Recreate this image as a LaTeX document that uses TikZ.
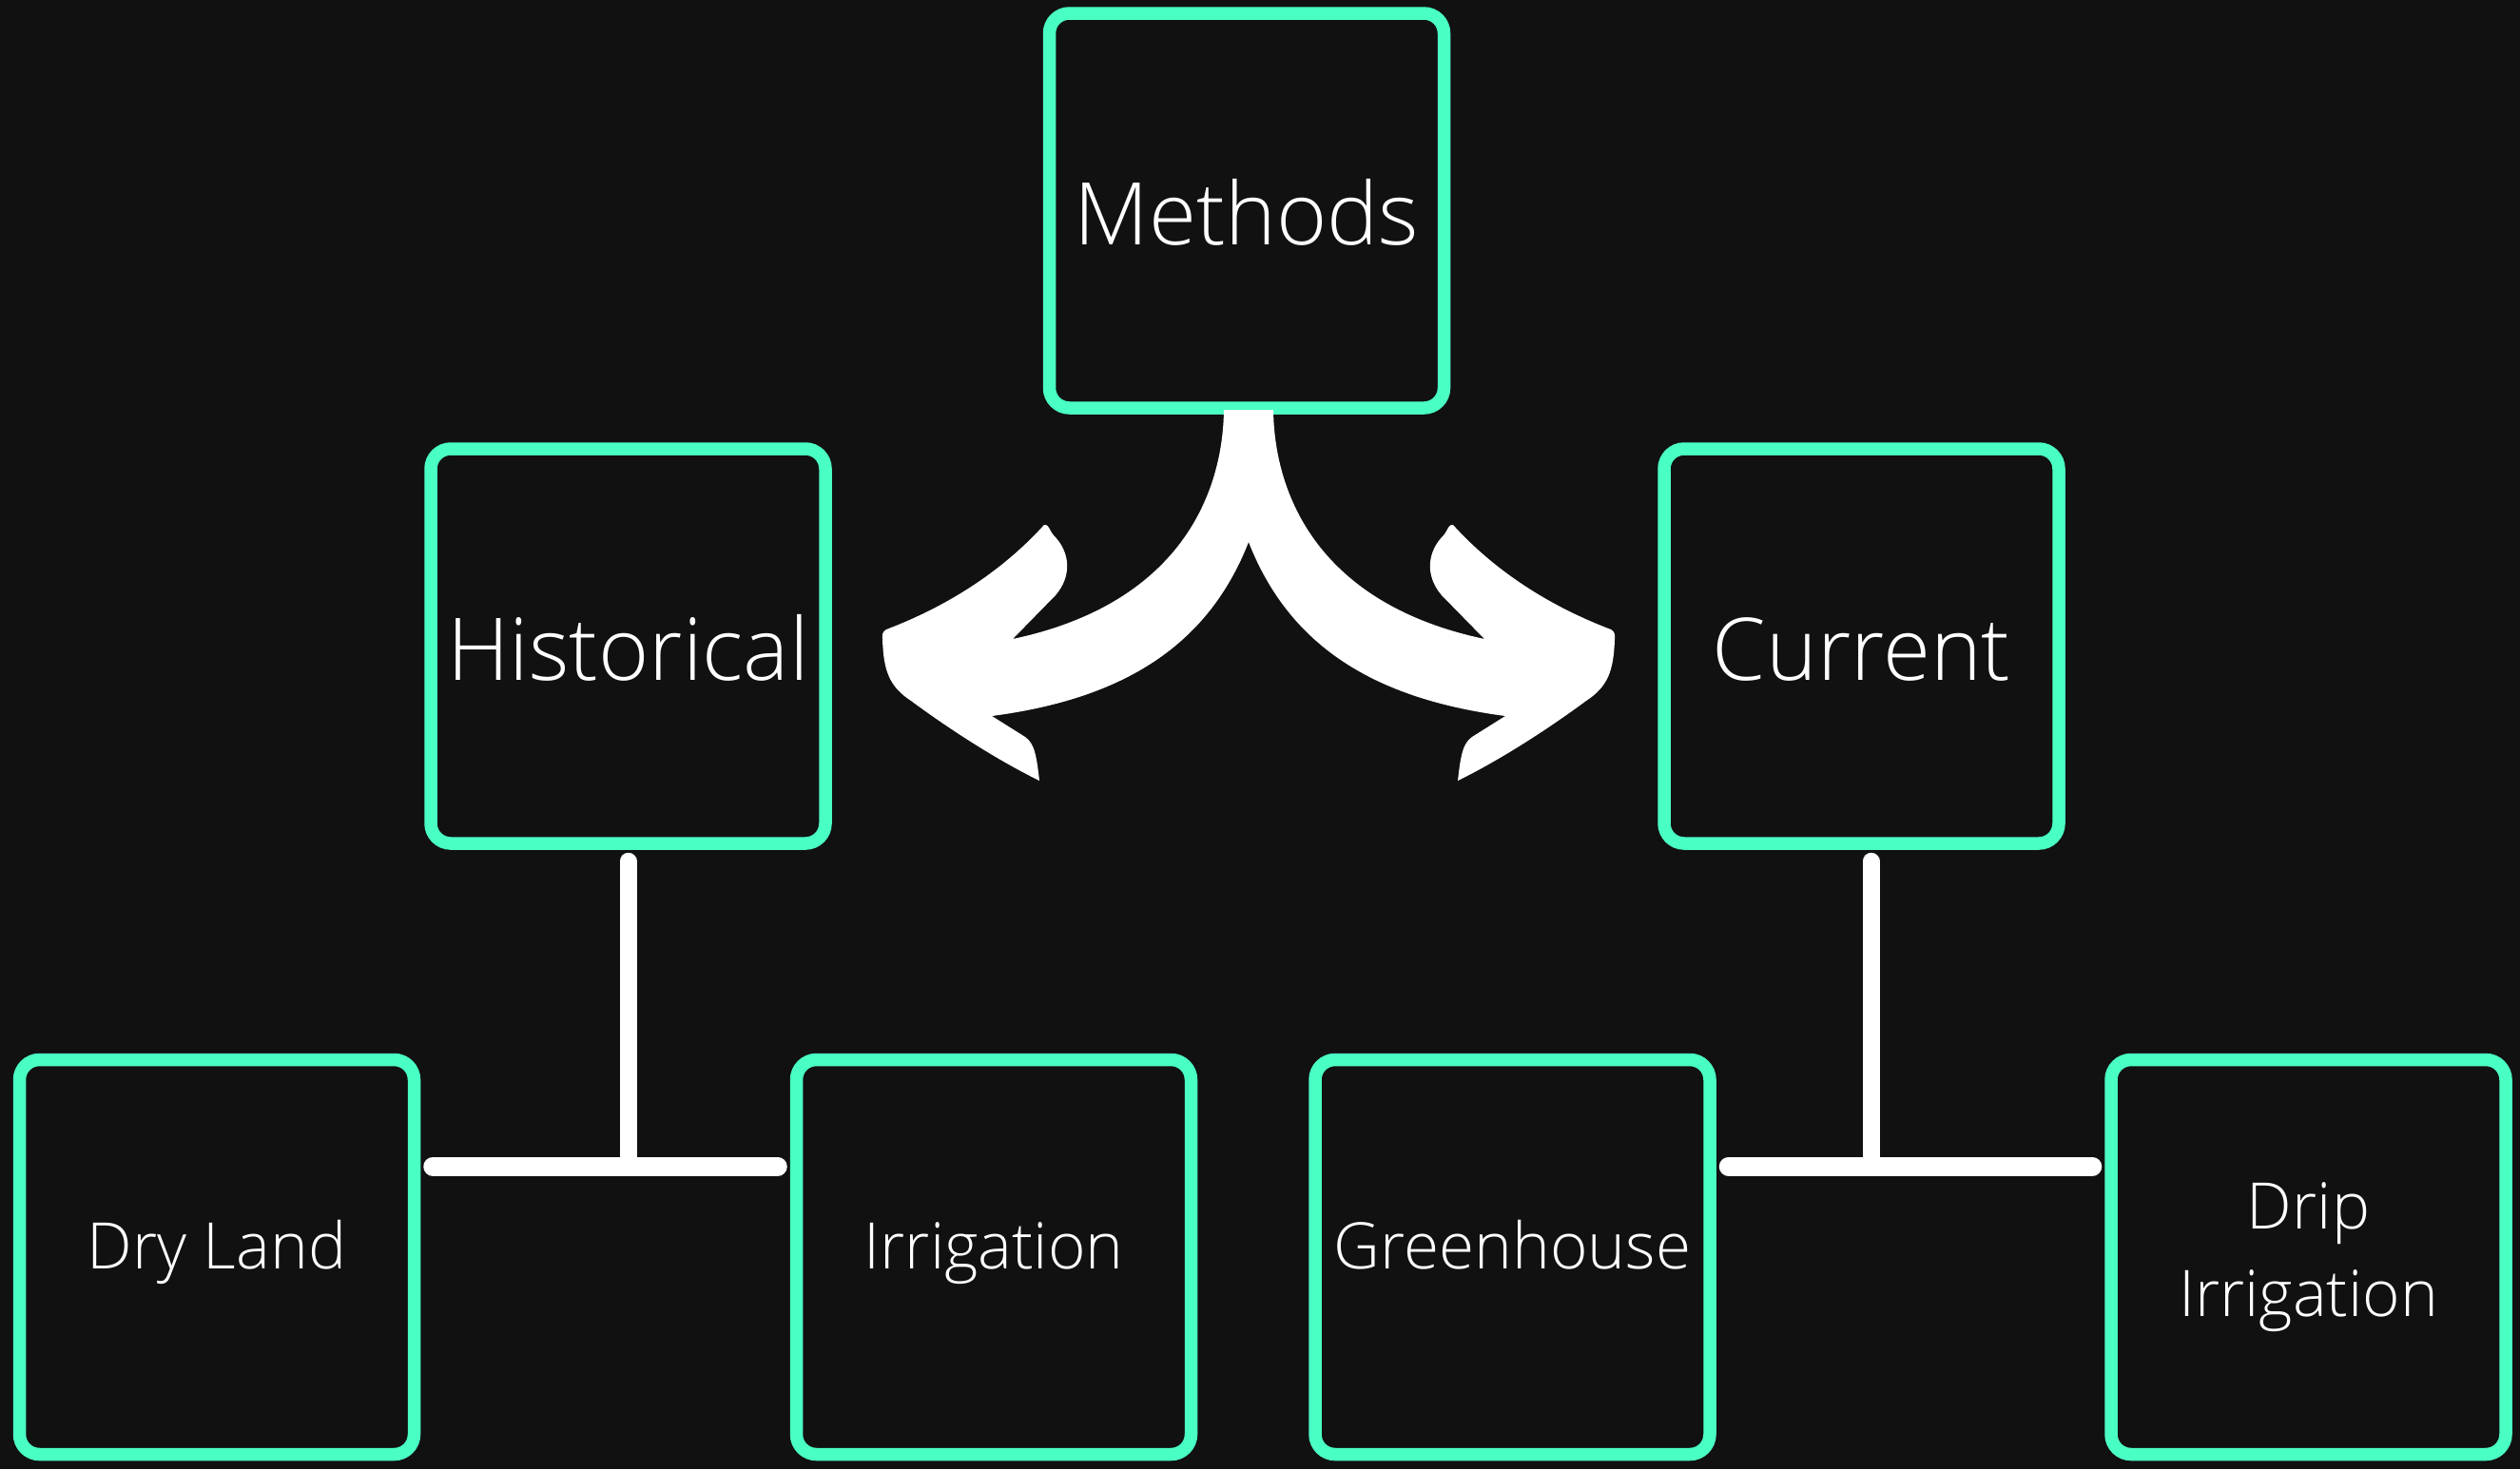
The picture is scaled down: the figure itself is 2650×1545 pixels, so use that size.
\documentclass[tikz,border=0pt]{standalone}
\usepackage{fontspec}
\IfFontExistsTF{Open Sans Light}{\setmainfont{Open Sans Light}}{\setmainfont{Open Sans}}
\usepackage{tikz}
\usetikzlibrary{calc}
\definecolor{bgcolor}{HTML}{111111}
\definecolor{boxcolor}{HTML}{4AFFC4}

\begin{document}
\begin{tikzpicture}[x=0.1mm,y=-0.1mm,
  catbox/.style={draw=boxcolor,line width=1.35mm,rounded corners=2.1mm,
    minimum width=41.5mm,minimum height=41.5mm,inner sep=0pt,text=white},
  bigtext/.style={catbox,font=\fontsize{25.9}{35}\selectfont,text height=8mm,text depth=0.9mm},
  smalltext/.style={catbox,font=\fontsize{19.2}{26.2}\selectfont,text height=3.6mm,text depth=1.2mm},
  stem/.style={white,line width=1.8mm,line cap=round},
  bar/.style={white,line width=2mm,line cap=round,shorten <=1.3mm,shorten >=1.3mm}]

  \fill[bgcolor] (0,0) rectangle (2650,1545);
  \useasboundingbox (0,0) rectangle (2650,1545);

  \node[bigtext] (meth) at (1311,221.5) {Methods};
  \node[bigtext] (hist) at (660.5,679.5) {Historical};
  \node[bigtext] (cur) at (1957.5,679.5) {Current};

  \foreach \nm/\x/\txt in {dry/228/Dry Land, irr/1045/Irrigation, green/1590.5/Greenhouse}
    \node[smalltext] (\nm) at (\x,1322) {\txt};
  \node[catbox,font=\fontsize{19.2}{26.2}\selectfont,align=center] (drip) at (2427.5,1322) {Drip\\Irrigation};

  %% T connectors
  \foreach \up/\l/\r/\dx in {hist/dry/irr/0, cur/green/drip/10}
  {
    \coordinate (top) at ($(\up.south)+(\dx,12)$);
    \coordinate (join) at ($(\up.south)+(\dx,333)$);
    \draw[stem] (top) -- (join);
    \draw[bar] (\l.east |- join) -- (\r.west |- join);
  }

  %% curved arrows out of Methods
  \def\halfarrow{(1287,431) .. controls (1286,520) and (1240,635) .. (1065,672)
    -- (1110,626) .. controls (1128,605) and (1125,580) .. (1108,563)
    .. controls (1103,557) and (1103,551) .. (1098,552)
    .. controls (1050,605) and (990,640) .. (932,662)
    .. controls (927,665) and (928,668) .. (928,672)
    .. controls (929,705) and (935,722) .. (958,737)
    .. controls (1000,768) and (1050,800) .. (1093,821)
    .. controls (1090,795) and (1088,782) .. (1078,775)
    -- (1043,753) .. controls (1180,735) and (1270,680) .. (1313,570)
    -- (1322,540) -- (1322,431) -- cycle}
  \fill[white] \halfarrow;
  \begin{scope}[shift={(2626,0)},xscale=-1]
    \fill[white] \halfarrow;
  \end{scope}
\end{tikzpicture}
\end{document}
